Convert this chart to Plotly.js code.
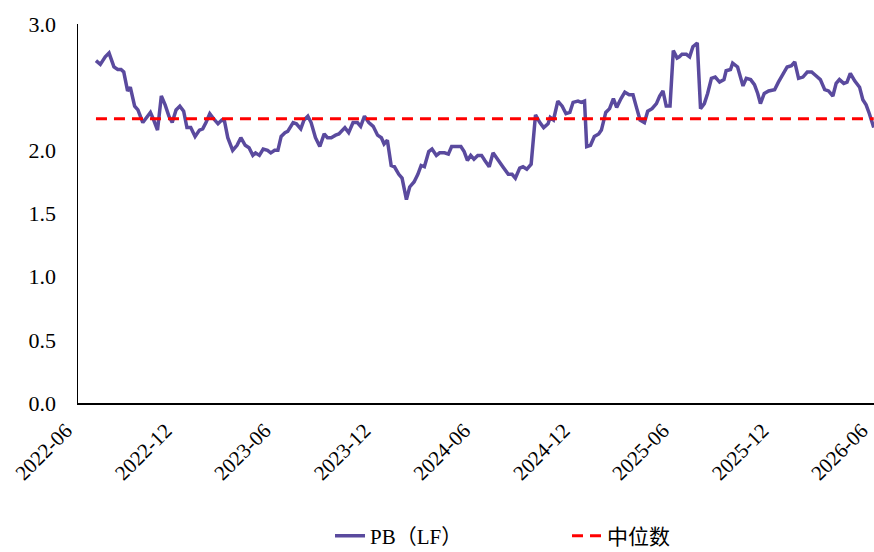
<!DOCTYPE html>
<html>
<head>
<meta charset="utf-8">
<script src="https://cdn.plot.ly/plotly-3.0.1.min.js"></script>
<style>html,body{margin:0;padding:0;background:#fff;}#chart{width:874px;height:552px;}</style>
</head>
<body>
<div id="chart"></div>
<script>
// Weekly observation dates
var dates = [
'2022-07-04','2022-07-12','2022-07-21','2022-07-28','2022-08-06','2022-08-13','2022-08-19','2022-08-24','2022-08-31','2022-09-05',
'2022-09-13','2022-09-19','2022-09-28','2022-10-04','2022-10-12','2022-10-18','2022-10-25','2022-11-01','2022-11-08','2022-11-15',
'2022-11-21','2022-11-28','2022-12-05','2022-12-12','2022-12-18','2022-12-25','2023-01-02','2023-01-10','2023-01-16','2023-01-22',
'2023-01-29','2023-02-05','2023-02-13','2023-02-20','2023-02-25','2023-03-03','2023-03-12','2023-03-20','2023-03-27','2023-04-04',
'2023-04-11','2023-04-18','2023-04-23','2023-04-30','2023-05-07','2023-05-15','2023-05-21','2023-05-28','2023-06-03','2023-06-09',
'2023-06-16','2023-06-21','2023-07-01','2023-07-07','2023-07-15','2023-07-21','2023-07-28','2023-08-03','2023-08-11','2023-08-19',
'2023-08-27','2023-09-02','2023-09-09','2023-09-17','2023-09-23','2023-10-04','2023-10-11','2023-10-19','2023-10-27','2023-11-02',
'2023-11-09','2023-11-17','2023-11-25','2023-12-03','2023-12-10','2023-12-15','2023-12-21','2023-12-28','2024-01-03','2024-01-11',
'2024-01-17','2024-01-25','2024-01-31','2024-02-08','2024-02-15','2024-02-21','2024-02-27','2024-03-06','2024-03-12','2024-03-20',
'2024-03-26','2024-04-04','2024-04-11','2024-04-17','2024-04-26','2024-05-04','2024-05-10','2024-05-16','2024-05-22','2024-05-28',
'2024-06-04','2024-06-11','2024-06-17','2024-06-25','2024-07-02','2024-07-11','2024-07-20','2024-07-30','2024-08-06','2024-08-12',
'2024-08-20','2024-08-26','2024-09-02','2024-09-10','2024-09-18','2024-09-26','2024-10-03','2024-10-11','2024-10-15','2024-10-21',
'2024-10-29','2024-11-06','2024-11-13','2024-11-20','2024-11-26','2024-12-05','2024-12-11','2024-12-17','2024-12-21','2024-12-28',
'2025-01-04','2025-01-12','2025-01-17','2025-01-25','2025-02-01','2025-02-08','2025-02-14','2025-02-22','2025-03-01','2025-03-09',
'2025-03-16','2025-03-23','2025-03-29','2025-04-06','2025-04-12','2025-04-20','2025-04-28','2025-05-04','2025-05-10','2025-05-16',
'2025-05-23','2025-05-29','2025-06-05','2025-06-09','2025-06-14','2025-06-22','2025-06-28','2025-07-04','2025-07-12','2025-07-18',
'2025-07-25','2025-07-31','2025-08-07','2025-08-14','2025-08-22','2025-08-30','2025-09-03','2025-09-11','2025-09-15','2025-09-24',
'2025-10-04','2025-10-10','2025-10-18','2025-10-25','2025-10-31','2025-11-05','2025-11-12','2025-11-20','2025-12-01','2025-12-08',
'2025-12-16','2025-12-24','2026-01-01','2026-01-07','2026-01-14','2026-01-22','2026-01-30','2026-02-07','2026-02-15','2026-02-23',
'2026-03-03','2026-03-10','2026-03-18','2026-03-24','2026-03-30','2026-04-07','2026-04-13','2026-04-19','2026-04-27','2026-05-06',
'2026-05-12','2026-05-18','2026-05-24','2026-06-01'
];
// PB (LF) values
var pbValues = [
2.71,2.68,2.74,2.77,2.66,2.64,2.64,2.62,2.47,2.50,
2.35,2.32,2.22,2.25,2.30,2.24,2.16,2.43,2.36,2.27,
2.22,2.32,2.35,2.31,2.18,2.18,2.11,2.16,2.17,2.22,
2.29,2.25,2.21,2.24,2.23,2.10,2.00,2.04,2.10,2.04,
2.02,1.96,1.98,1.96,2.01,2.00,1.98,2.00,2.00,2.11,
2.14,2.15,2.22,2.21,2.17,2.24,2.27,2.22,2.10,2.03,
2.13,2.10,2.10,2.12,2.13,2.18,2.14,2.22,2.22,2.19,
2.27,2.22,2.19,2.12,2.10,2.05,2.08,1.88,1.87,1.81,
1.78,1.61,1.71,1.75,1.81,1.88,1.87,1.99,2.01,1.96,
1.98,1.98,1.97,2.03,2.03,2.03,1.99,1.92,1.96,1.93,
1.96,1.96,1.92,1.87,1.98,1.92,1.87,1.81,1.81,1.78,
1.86,1.87,1.85,1.89,2.28,2.22,2.18,2.21,2.26,2.24,
2.39,2.35,2.29,2.30,2.38,2.39,2.38,2.39,2.03,2.04,
2.11,2.13,2.16,2.30,2.33,2.41,2.34,2.41,2.46,2.44,
2.44,2.33,2.24,2.22,2.31,2.33,2.37,2.43,2.47,2.35,
2.35,2.79,2.73,2.74,2.76,2.76,2.74,2.82,2.85,2.33,
2.37,2.45,2.57,2.58,2.54,2.56,2.63,2.64,2.69,2.66,
2.51,2.57,2.56,2.52,2.45,2.37,2.45,2.47,2.48,2.54,
2.60,2.66,2.67,2.70,2.57,2.58,2.62,2.62,2.59,2.56,
2.48,2.47,2.43,2.53,2.56,2.53,2.54,2.61,2.55,2.50,
2.40,2.36,2.29,2.18
];
var MEDIAN = 2.25;
var medianDates = [dates[0], dates[dates.length - 1]];
var medianValues = [MEDIAN, MEDIAN];
var yTickVals = [0, 0.5, 1.0, 1.5, 2.0, 3.0];

var SERIF = 'Liberation Serif, Noto Sans CJK SC';

var traces = [
  {
    x: dates, y: pbValues, type: 'scatter', mode: 'lines', name: 'PB（LF）',
    line: {color: '#5A4A9E', width: 3.5}
  },
  {
    x: medianDates, y: medianValues, type: 'scatter', mode: 'lines', name: '中位数',
    line: {color: '#FF0000', width: 3, dash: '11px,7px'}
  }
];

var layout = {
  width: 874, height: 552,
  margin: {l: 78, r: 0, t: 24, b: 149},
  paper_bgcolor: '#ffffff', plot_bgcolor: '#ffffff',
  showlegend: true,
  hovermode: false,
  font: {family: SERIF, color: '#000000', size: 20},
  xaxis: {
    type: 'date',
    range: ['2022-06-01', '2026-06-01 12:00'],
    tick0: '2022-06-01', dtick: 'M6',
    tickformat: '%Y-%m',
    tickangle: -45,
    ticks: '',
    ticklabeloverflow: 'allow',
    ticklabelshift: -12,
    showgrid: false, zeroline: false,
    showline: true, linecolor: '#000000', linewidth: 2,
    tickfont: {family: SERIF, size: 21, color: '#000'},
    ticklabelstandoff: 5
  },
  yaxis: {
    range: [0, 3],
    tickvals: yTickVals,
    tickformat: '.1f',
    ticks: '',
    showgrid: false, zeroline: false,
    showline: true, linecolor: '#000000', linewidth: 1.5,
    tickfont: {family: SERIF, size: 22, color: '#000'},
    ticklabelstandoff: 16
  },
  legend: {
    orientation: 'h',
    xref: 'paper', x: 0.3166, xanchor: 'left',
    yref: 'container', y: 0.029, yanchor: 'middle',
    font: {family: SERIF, size: 21, color: '#000'},
    entrywidth: 192, entrywidthmode: 'pixels',
    traceorder: 'normal'
  }
};

Plotly.newPlot('chart', traces, layout, {displayModeBar: false, staticPlot: true});
</script>
</body>
</html>
